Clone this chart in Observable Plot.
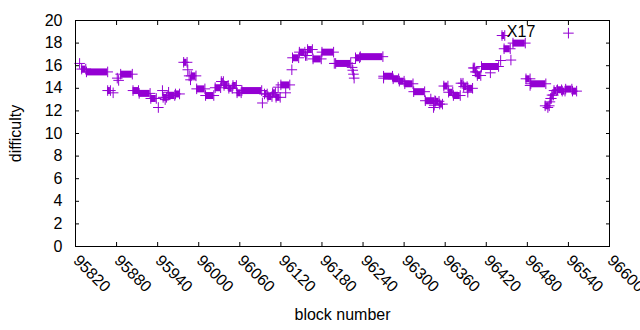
<!DOCTYPE html>
<html>
<head>
<meta charset="utf-8">
<script src="https://cdn.jsdelivr.net/npm/d3@7"></script>
<script src="https://cdn.jsdelivr.net/npm/@observablehq/plot@0.6"></script>
<style>
  html, body { margin: 0; padding: 0; background: #fff; }
  #chart { width: 640px; height: 330px; }
</style>
</head>
<body>
<div id="chart"></div>
<script>
// Runs of blocks sharing the same difficulty (start block, end block, difficulty)
const runStart = [95826, 95829, 95836, 95867, 95875, 95881, 95883, 95886, 95904, 95913, 95930, 95941, 95947,
  95948, 95951, 95955, 95956, 95966, 95978, 95984, 95986, 95988, 95989, 95997, 96010, 96024, 96033, 96037, 96044, 96050, 96056, 96063,
  96093, 96096, 96101, 96108, 96113, 96116, 96120, 96127, 96136, 96137, 96147, 96156, 96159, 96167, 96180, 96198, 96200,
  96224, 96225, 96226, 96227, 96229, 96236, 96270, 96270, 96284, 96293, 96301, 96314, 96331,
  96339, 96344, 96343, 96346, 96352, 96358, 96365, 96372, 96383, 96387, 96393, 96393, 96401, 96404, 96407, 96413, 96426, 96441,
  96443, 96446, 96456, 96459, 96478, 96484, 96485, 96506, 96510, 96513, 96514, 96516, 96519, 96524, 96531, 96536, 96546, 96540];
const runEnd = [95826, 95835, 95867, 95871, 95875, 95881, 95883, 95903, 95912, 95929, 95938, 95941, 95947,
  95953, 95951, 95965, 95956, 95972, 95983, 95984, 95986, 95988, 95996, 96009, 96022, 96032, 96036, 96043, 96049, 96055, 96062, 96092,
  96093, 96100, 96107, 96112, 96119, 96116, 96133, 96127, 96136, 96146, 96155, 96158, 96166, 96179, 96197, 96198, 96222,
  96224, 96225, 96226, 96227, 96235, 96269, 96283, 96270, 96292, 96300, 96313, 96330, 96345,
  96339, 96344, 96343, 96351, 96356, 96364, 96371, 96382, 96386, 96392, 96400, 96393, 96403, 96406, 96412, 96438, 96426, 96441,
  96447, 96455, 96456, 96477, 96484, 96484, 96507, 96512, 96510, 96513, 96515, 96518, 96523, 96530, 96535, 96545, 96552, 96540];
const runDiff = [16.2, 15.7, 15.45, 13.8, 13.6, 14.9, 14.7, 15.25, 13.8, 13.55, 13.1, 12.3, 13.8,
  13.2, 13.0, 13.36, 13.65, 13.5, 16.3, 15.64, 15.1, 14.75, 15.1, 13.95, 13.36, 14.05, 14.6, 14.25, 14.0, 14.25, 13.6, 13.8,
  12.7, 13.5, 13.27, 13.6, 13.2, 14.1, 14.3, 13.6, 15.64, 16.7, 17.2, 16.9, 17.43, 16.6, 17.2, 16.2, 16.2,
  15.85, 15.6, 15.25, 14.9, 16.7, 16.8, 15.07, 14.9, 14.84, 14.63, 14.4, 13.7, 12.9,
  13.05, 12.5, 12.3, 12.85, 12.6, 14.2, 13.65, 13.36, 14.45, 14.15, 14.0, 13.65, 15.8, 15.45, 15.13, 15.93, 15.37, 16.46,
  18.67, 17.5, 16.5, 18.0, 14.84, 14.25, 14.4, 12.45, 12.3, 12.8, 13.1, 13.4, 13.8, 13.87, 13.75, 13.93, 13.75, 18.88];

const xTicks = [95820, 95880, 95940, 96000, 96060, 96120, 96180, 96240, 96300, 96360, 96420, 96480, 96540, 96600];
const yTicks = [0, 2, 4, 6, 8, 10, 12, 14, 16, 18, 20];

const noteText = ["X17"];
const noteBlock = [96450];
const noteDiff = [18.95];

const runs = runStart.map((s, i) => ({start: s, end: runEnd[i], diff: runDiff[i]}));
const ends = runs.flatMap(r => r.start === r.end ? [{b: r.start, diff: r.diff}] : [{b: r.start, diff: r.diff}, {b: r.end, diff: r.diff}]);
const notes = noteText.map((t, i) => ({t, b: noteBlock[i], diff: noteDiff[i]}));

const purple = "#9400d3";

const chart = Plot.plot({
  width: 640,
  height: 330,
  marginLeft: 75,
  marginRight: 31,
  marginTop: 20,
  marginBottom: 84,
  style: {fontFamily: "'Liberation Sans', Arial, sans-serif", fontSize: "16px", color: "black", background: "white", overflow: "visible"},
  x: {domain: [95820, 96600]},
  y: {domain: [0, 20]},
  marks: [
    Plot.ruleY(runs.filter(r => r.end > r.start), {x1: "start", x2: "end", y: "diff", stroke: purple, strokeWidth: 7}),
    Plot.dot(ends, {x: "b", y: "diff", symbol: "plus", r: 3.5, stroke: purple, strokeWidth: 1}),
    Plot.text(notes, {x: "b", y: "diff", text: "t", textAnchor: "start", fill: "black", fontSize: 16}),
    Plot.frame({stroke: "black"}),
    Plot.axisX({ticks: xTicks, tickSize: -4, fill: "none", label: null}),
    Plot.axisX({anchor: "top", ticks: xTicks, tickSize: -4, fill: "none", label: null}),
    Plot.axisY({ticks: yTicks, tickSize: -4, fill: "none", label: null}),
    Plot.axisY({anchor: "right", ticks: yTicks, tickSize: -4, fill: "none", label: null}),
    Plot.axisX({ticks: xTicks, tickSize: 0, tickPadding: 6, tickRotate: 45, textAnchor: "start", lineAnchor: "top",
      dx: 5, dy: 1, fontSize: 16,
      tickFormat: d => String(d), label: null}),
    Plot.axisX({ticks: [], tickSize: 0, label: "block number", labelAnchor: "center", labelOffset: 73, labelArrow: "none"}),
    Plot.axisY({ticks: yTicks, tickSize: 0, tickPadding: 13, tickFormat: d => String(d),
      label: "difficulty", labelAnchor: "center", labelOffset: 66, labelArrow: "none"})
  ]
});
document.getElementById("chart").appendChild(chart);
</script>
</body>
</html>
